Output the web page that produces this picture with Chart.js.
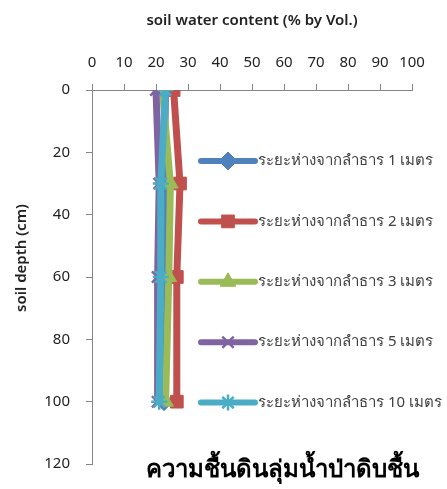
<!DOCTYPE html>
<html>
<head>
<meta charset="utf-8">
<script src="https://cdn.jsdelivr.net/npm/chart.js@4"></script>
<style>
  html, body { margin: 0; padding: 0; background: #fff; }
  #wrap { width: 447px; height: 489px; position: relative; }
</style>
</head>
<body>
<div id="wrap"><canvas id="soilChart" width="447" height="489"></canvas></div>
<script>
// soil depth (cm) of each sampling point
const depths = [0, 30, 60, 100];

// soil water content (% by vol.) per distance from the stream
const dist1m = [23, 22.5, 22.5, 22.5];
const dist2m = [25.5, 27.5, 26.5, 26.5];
const dist3m = [22, 24.5, 24, 23];
const dist5m = [20, 21, 20.5, 20.5];
const dist10m = [23, 21.5, 21.5, 21];

const seriesNames = [
    'ระยะห่างจากลำธาร 1 เมตร',
    'ระยะห่างจากลำธาร 2 เมตร',
    'ระยะห่างจากลำธาร 3 เมตร',
    'ระยะห่างจากลำธาร 5 เมตร',
    'ระยะห่างจากลำธาร 10 เมตร'
];

const xTicks = [0, 10, 20, 30, 40, 50, 60, 70, 80, 90, 100];
const yTicks = [0, 20, 40, 60, 80, 100, 120];

const chartTitle = 'ความชื้นดินลุ่มน้ำป่าดิบชื้น';
const xTitle = 'soil water content (% by Vol.)';
const yTitle = 'soil depth (cm)';

const FONT = "'Noto Sans', sans-serif";

function toPoints(values) {
    return values.map((v, i) => ({ x: v, y: depths[i] }));
}

function makeSet(label, values, color, style, order) {
    const isLine = style === 'crossRot' || style === 'star';
    return {
        label: label,
        data: toPoints(values),
        borderColor: color,
        backgroundColor: color,
        borderWidth: 7,
        pointStyle: style,
        pointRadius: isLine ? 8 : 9,
        pointBorderWidth: isLine ? 2.5 : 1,
        pointBorderColor: color,
        pointBackgroundColor: color,
        order: order
    };
}

const datasets = [
    makeSet(seriesNames[0], dist1m, '#4F81BD', 'rectRot', 5),
    makeSet(seriesNames[1], dist2m, '#C0504D', 'rect', 4),
    makeSet(seriesNames[2], dist3m, '#9BBB59', 'triangle', 3),
    makeSet(seriesNames[3], dist5m, '#8064A2', 'crossRot', 2),
    makeSet(seriesNames[4], dist10m, '#4BACC6', 'star', 1)
];

// legend over the right side of the plot, y-axis title and the bottom title
const overlayPlugin = {
    id: 'overlay',
    afterDraw(chart) {
        const ctx = chart.ctx;
        ctx.save();
        datasets.forEach((ds, i) => {
            const y = 161 + i * 60.4;
            ctx.beginPath();
            ctx.lineCap = 'round';
            ctx.lineWidth = 6;
            ctx.strokeStyle = ds.borderColor;
            ctx.moveTo(201, y);
            ctx.lineTo(255, y);
            ctx.stroke();

            ctx.lineCap = 'butt';
            ctx.fillStyle = ds.borderColor;
            ctx.strokeStyle = ds.borderColor;
            ctx.lineWidth = ds.pointBorderWidth;
            Chart.helpers.drawPoint(ctx, {
                pointStyle: ds.pointStyle,
                radius: ds.pointRadius,
                rotation: 0,
                borderWidth: ds.pointBorderWidth
            }, 228, y);

            ctx.fillStyle = '#404040';
            ctx.font = '15px ' + FONT;
            ctx.textAlign = 'left';
            ctx.textBaseline = 'middle';
            ctx.fillText(ds.label, 258, y);
        });

        ctx.save();
        ctx.translate(22, 258);
        ctx.rotate(-Math.PI / 2);
        ctx.fillStyle = '#222';
        ctx.font = '600 15px ' + FONT;
        ctx.textAlign = 'center';
        ctx.textBaseline = 'middle';
        ctx.fillText(yTitle, 0, 0);
        ctx.restore();

        ctx.fillStyle = '#000';
        ctx.font = 'bold 24px ' + FONT;
        ctx.textAlign = 'center';
        ctx.textBaseline = 'middle';
        ctx.fillText(chartTitle, 282, 470);
        ctx.restore();
    }
};

const ctx = document.getElementById('soilChart').getContext('2d');
new Chart(ctx, {
    type: 'line',
    data: { datasets: datasets },
    options: {
        responsive: false,
        animation: false,
        indexAxis: 'y',
        layout: { padding: { left: 0, top: 0, right: 35, bottom: 22 } },
        plugins: {
            legend: { display: false },
            tooltip: { enabled: false }
        },
        scales: {
            x: {
                type: 'linear',
                position: 'top',
                min: 0,
                max: 100,
                afterBuildTicks: s => { s.ticks = xTicks.map(v => ({ value: v })); },
                afterFit: s => { s.height = 90; },
                grid: {
                    drawOnChartArea: false,
                    color: '#868686',
                    tickLength: 6
                },
                border: { color: '#868686', width: 1 },
                ticks: {
                    color: '#222',
                    padding: 12,
                    maxRotation: 0,
                    font: { family: FONT, size: 15 }
                },
                title: {
                    display: true,
                    text: xTitle,
                    color: '#222',
                    padding: { top: 12, bottom: 0 },
                    font: { family: FONT, size: 15, weight: '600' }
                }
            },
            y: {
                type: 'linear',
                reverse: true,
                min: 0,
                max: 120,
                afterBuildTicks: s => { s.ticks = yTicks.map(v => ({ value: v })); },
                afterFit: s => { s.width = 92; },
                grid: {
                    drawOnChartArea: false,
                    color: '#868686',
                    tickLength: 6
                },
                border: { color: '#868686', width: 1 },
                ticks: {
                    color: '#222',
                    padding: 16,
                    font: { family: FONT, size: 15 }
                },
                title: { display: false }
            }
        }
    },
    plugins: [overlayPlugin]
});
</script>
</body>
</html>
